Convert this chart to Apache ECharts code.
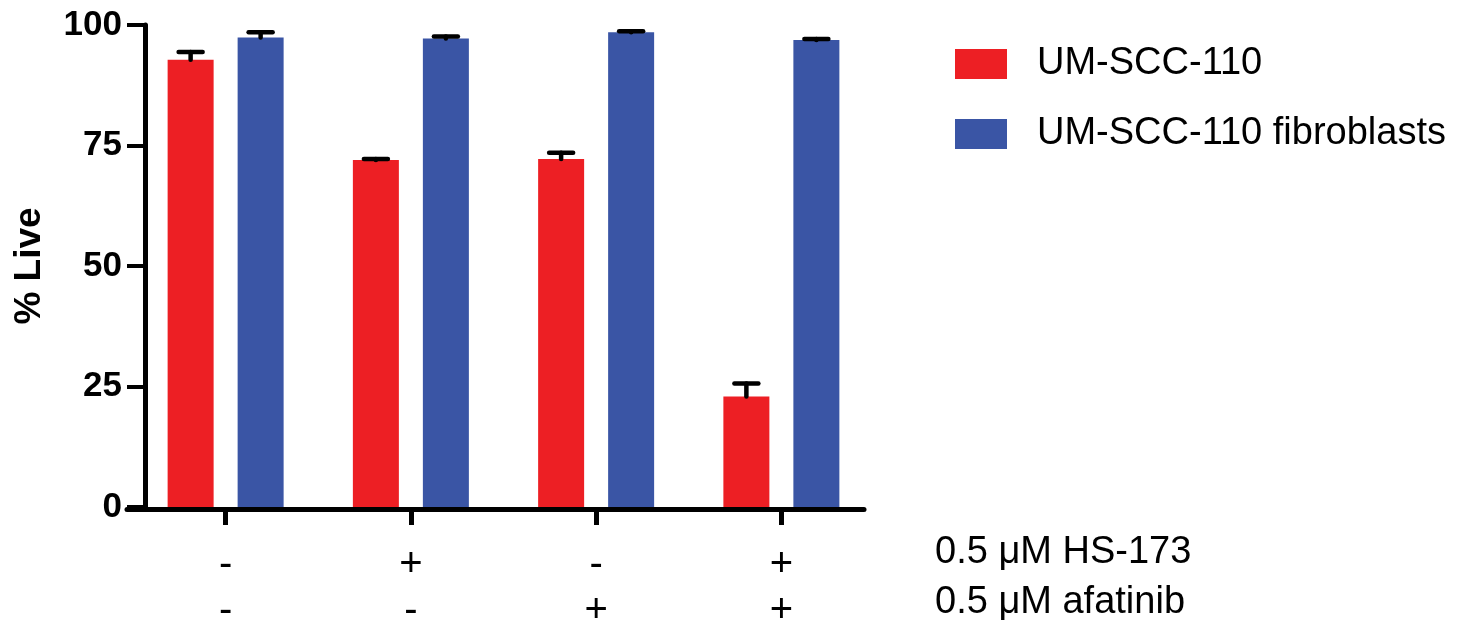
<!DOCTYPE html>
<html>
<head>
<meta charset="utf-8">
<script src="https://cdn.jsdelivr.net/npm/echarts@6/dist/echarts.min.js"></script>
<style>
  html, body { margin: 0; padding: 0; background: #fff; }
  #chart { width: 1462px; height: 634px; }
</style>
</head>
<body>
<div id="chart"></div>
<script>
// 数据
var categories = ['-\n-', '+\n-', '-\n+', '+\n+'];
var seriesNames = ['UM-SCC-110', 'UM-SCC-110 fibroblasts'];
var tumorMean = [92.8, 72.0, 72.2, 22.9];
var tumorSd = [1.6, 0.2, 1.3, 2.7];
var fibroMean = [97.4, 97.2, 98.5, 96.9];
var fibroSd = [1.1, 0.4, 0.2, 0.2];
var yTicks = [0, 25, 50, 75, 100];
var treatmentRows = ['0.5 μM HS-173', '0.5 μM afatinib'];

var colors = ['#ED1F24', '#3A55A5'];
var barWidth = 46;
var barGapPx = 24;

// 误差线 (只画上半部分)
function errorSeries(mean, sd, side) {
    return {
        type: 'custom',
        xAxisIndex: 0,
        yAxisIndex: 0,
        z: 5,
        silent: true,
        data: mean.map(function (m, i) { return [i, m, m + sd[i]]; }),
        renderItem: function (params, api) {
            var off = side * (barWidth / 2 + barGapPx / 2);
            var lo = api.coord([api.value(0), api.value(1)]);
            var hi = api.coord([api.value(0), api.value(2)]);
            var x = lo[0] + off;
            var style = { stroke: '#000', lineWidth: 4.5, lineCap: 'round' };
            return {
                type: 'group',
                children: [
                    { type: 'line', shape: { x1: x, y1: lo[1], x2: x, y2: hi[1] }, style: style },
                    { type: 'line', shape: { x1: x - 12, y1: hi[1], x2: x + 12, y2: hi[1] }, style: style }
                ]
            };
        }
    };
}

var myChart = echarts.init(document.getElementById('chart'));
var option = {
    backgroundColor: '#fff',
    animation: false,
    title: {
        text: treatmentRows.join('\n'),
        left: 930,
        top: 523,
        textStyle: {
            fontFamily: 'Liberation Sans',
            fontSize: 38,
            fontWeight: 'normal',
            color: '#000',
            lineHeight: 50
        }
    },
    legend: {
        orient: 'vertical',
        left: 950,
        top: 39,
        itemWidth: 52,
        itemHeight: 30,
        itemGap: 30,
        icon: 'rect',
        data: seriesNames,
        textStyle: {
            fontFamily: 'Liberation Sans',
            fontSize: 38,
            color: '#000',
            lineHeight: 40,
            padding: [0, 0, 0, 25]
        }
    },
    grid: [
        { left: 133, width: 741, top: 25, bottom: 125 },
        { left: 127, width: 737, top: 25, bottom: 125 }
    ],
    xAxis: [
        {
            type: 'category',
            gridIndex: 0,
            data: categories,
            axisLine: { show: false },
            axisTick: { show: true, alignWithLabel: true, length: 18, lineStyle: { color: '#000', width: 5 } },
            axisLabel: {
                margin: 35,
                fontFamily: 'Liberation Sans',
                fontSize: 40,
                lineHeight: 46,
                color: '#000'
            }
        },
        {
            type: 'category',
            gridIndex: 1,
            data: [''],
            axisLine: { show: true, lineStyle: { color: '#000', width: 5 } },
            axisTick: { show: false },
            axisLabel: { show: false }
        }
    ],
    yAxis: [
        {
            type: 'value',
            gridIndex: 0,
            min: yTicks[0],
            max: yTicks[yTicks.length - 1],
            interval: 25,
            offset: -12,
            name: '% Live',
            nameLocation: 'middle',
            nameGap: 97,
            nameTextStyle: {
                fontFamily: 'Liberation Sans',
                fontSize: 37,
                fontWeight: 'bold',
                color: '#000'
            },
            splitLine: { show: false },
            axisLine: { show: true, lineStyle: { color: '#000', width: 5 } },
            axisTick: { show: true, length: 18, lineStyle: { color: '#000', width: 4 } },
            axisLabel: {
                margin: 23,
                fontFamily: 'Liberation Sans',
                fontSize: 35,
                fontWeight: 'bold',
                color: '#000'
            }
        },
        {
            type: 'value',
            gridIndex: 1,
            min: 0,
            max: 100,
            show: false
        }
    ],
    series: [
        {
            name: seriesNames[0],
            type: 'bar',
            xAxisIndex: 0,
            yAxisIndex: 0,
            barWidth: barWidth,
            barGap: (barGapPx / barWidth * 100) + '%',
            itemStyle: { color: colors[0] },
            data: tumorMean
        },
        {
            name: seriesNames[1],
            type: 'bar',
            xAxisIndex: 0,
            yAxisIndex: 0,
            barWidth: barWidth,
            barGap: (barGapPx / barWidth * 100) + '%',
            itemStyle: { color: colors[1] },
            data: fibroMean
        },
        errorSeries(tumorMean, tumorSd, -1),
        errorSeries(fibroMean, fibroSd, 1)
    ]
};
myChart.setOption(option);
</script>
</body>
</html>
